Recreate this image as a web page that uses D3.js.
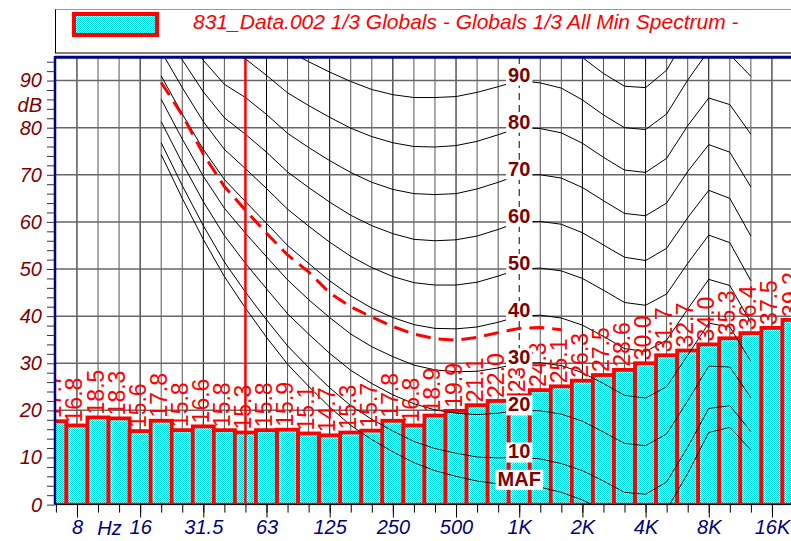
<!DOCTYPE html>
<html><head><meta charset="utf-8">
<script src="https://cdn.jsdelivr.net/npm/d3@7"></script>
<style>
body{margin:0;background:#fff;}
svg{display:block;font-family:"Liberation Sans",Arial,sans-serif;}
</style>
</head><body>
<svg id="c" width="791" height="541"></svg>
<script>
// ---------- DATA ----------
const bands = ["6.3","8","10","12.5","16","20","25","31.5","40","50","63","80","100","125","160","200","250","315","400","500","630","800","1K","1.25K","1.6K","2K","2.5K","3.15K","4K","5K","6.3K","8K","10K","12.5K","16K","20K"];
const minSpectrum = [17.7,16.8,18.5,18.3,15.6,17.8,15.8,16.6,15.8,15.3,15.8,15.9,15.1,14.7,15.3,15.7,17.8,16.8,18.9,19.9,21.1,22.0,23.2,24.3,25.1,26.3,27.5,28.6,30.0,31.7,32.7,34.0,35.3,36.4,37.5,39.2];
const octaveTicks = ["8","16","31.5","63","125","250","500","1K","2K","4K","8K","16K"];
const yTickValues = [0,2,4,6,8,10,12,14,16,18,20,22,24,26,28,30,32,34,36,38,40,42,44,46,48,50,52,54,56,58,60,62,64,66,68,70,72,74,76,78,80,82,84,86,88,90,92,94];
const yLabelValues = [0,10,20,30,40,50,60,70,80,90];

// equal-loudness contours, bands 20 Hz .. 12.5 kHz
const contourBands = ["20","25","31.5","40","50","63","80","100","125","160","200","250","315","400","500","630","800","1K","1.25K","1.6K","2K","2.5K","3.15K","4K","5K","6.3K","8K","10K","12.5K"];
const phonMAF = [74.3,65.0,56.3,48.4,41.7,35.5,29.8,25.1,20.7,16.8,13.8,11.2,8.9,7.2,6.0,5.0,4.4,4.2,3.7,2.6,1.0,-1.2,-3.6,-3.9,-1.1,6.6,15.3,16.4,11.6];
const phon10 = [76.8,67.7,59.2,51.5,45.1,39.2,33.7,29.1,24.8,21.0,18.1,15.6,13.4,11.9,10.9,10.1,9.9,10.0,9.7,8.7,7.2,5.0,2.6,2.2,4.8,12.2,20.4,21.0,15.5];
const phon20 = [81.3,72.5,64.3,57.1,51.2,45.8,40.5,36.2,32.1,28.5,25.7,23.3,21.4,20.1,19.4,19.1,19.4,20.0,19.9,19.2,17.7,15.4,13.0,12.5,15.0,22.0,29.4,29.2,22.7];
const phon30 = [86.0,77.6,69.7,62.9,57.6,52.6,47.7,43.5,39.7,36.2,33.5,31.4,29.6,28.6,28.2,28.3,29.0,30.0,30.1,29.5,28.0,25.7,23.2,22.6,25.0,31.7,38.5,37.7,30.4];
const phon40 = [91.0,82.9,75.4,69.0,64.3,59.7,55.0,51.2,47.5,44.3,41.7,39.7,38.2,37.4,37.3,37.7,38.7,40.0,40.2,39.6,38.1,35.7,33.1,32.5,34.9,41.5,47.8,46.5,38.6];
const phon50 = [96.2,88.5,81.3,75.4,71.3,67.1,62.7,59.1,55.7,52.7,50.3,48.4,47.1,46.6,46.6,47.2,48.5,50.0,50.2,49.6,48.0,45.5,42.9,42.3,44.7,51.2,57.2,55.6,47.5];
const phon60 = [101.7,94.4,87.6,82.1,78.6,74.8,70.6,67.3,64.2,61.4,59.2,57.5,56.3,56.0,56.2,57.0,58.4,60.0,60.1,59.5,57.7,55.1,52.5,51.8,54.4,60.9,66.7,65.0,57.0];
const phon70 = [107.6,100.7,94.3,89.2,86.4,82.8,78.8,75.8,73.0,70.5,68.4,66.9,66.0,65.8,66.0,67.0,68.4,70.0,70.0,69.3,67.3,64.5,61.8,61.3,64.0,70.7,76.4,74.8,67.4];
const phon80 = [113.7,107.3,101.3,96.6,94.6,91.1,87.4,84.7,82.2,79.9,78.1,76.8,76.0,75.9,76.2,77.1,78.5,80.0,79.8,78.9,76.7,73.7,71.0,70.5,73.5,80.4,86.3,84.9,78.6];
const phon90 = [120.3,114.4,108.7,104.4,103.2,99.8,96.3,94.0,91.8,89.8,88.1,87.0,86.4,86.4,86.6,87.5,88.7,90.0,89.5,88.4,85.9,82.7,80.0,79.6,82.9,90.1,96.4,95.5,90.9];
const phon100 = [127.2,121.9,116.6,112.6,112.3,108.9,105.6,103.6,101.8,100.1,98.7,97.8,97.2,97.3,97.4,98.1,99.0,100.0,99.1,97.7,94.9,91.5,88.8,88.5,92.2,99.9,106.6,106.4,104.3];
const contours = [phonMAF,phon10,phon20,phon30,phon40,phon50,phon60,phon70,phon80,phon90,phon100];
const phonLabels = ["90","80","70","60","50","40","30","20","10","MAF"];
const phonLabelLevels = [90,80,70,60,50,40,30,20,10,4.2];

// red dashed reference curve, bands 20 Hz .. 1.6 kHz
const dashedBands = ["20","25","31.5","40","50","63","80","100","125","160","200","250","315","400","500","630","800","1K","1.25K","1.6K"];
const dashedCurve = [89.6,82.7,74.4,67.5,62.5,57.6,53.0,49.4,44.9,42.0,39.8,37.8,36.2,35.2,34.9,35.5,36.5,37.4,37.6,37.1];
const cursorBand = "50";
const titleText = "831_Data.002 1/3 Globals - Globals 1/3 All Min Spectrum -";

// ---------- LAYOUT ----------
const svg = d3.select("#c");
const step = 21.06;
const x = d3.scalePoint().domain(bands).range([55.9, 55.9 + (bands.length-1)*step]);
const y = d3.scaleLinear().domain([0,95]).range([504.6,57]);
const L = 55, T = 57, R = 791, B = y(0);

const defs = svg.append("defs");
const pat = defs.append("pattern").attr("id","dither").attr("width",2).attr("height",2).attr("patternUnits","userSpaceOnUse");
pat.append("rect").attr("width",2).attr("height",2).attr("fill","#ffffff");
pat.append("rect").attr("width",1).attr("height",1).attr("fill","#00d8d8");
pat.append("rect").attr("x",1).attr("y",1).attr("width",1).attr("height",1).attr("fill","#00d8d8");
defs.append("clipPath").attr("id","plotclip").append("rect").attr("x",L).attr("y",T).attr("width",R-L+10).attr("height",B-T);

// legend
svg.append("rect").attr("x",55.5).attr("y",9.5).attr("width",800).attr("height",43.5).attr("fill","#fff").attr("stroke","#000").attr("stroke-width",1);
svg.append("line").attr("x1",55.5).attr("x2",800).attr("y1",9.5).attr("y2",9.5).attr("stroke","#999");
svg.append("rect").attr("x",74).attr("y",14).attr("width",83).attr("height",21).attr("fill","url(#dither)").attr("stroke","#ff0000").attr("stroke-width",4);
svg.append("text").attr("x",193).attr("y",28.5).attr("fill","#ff0000").attr("font-size",21).attr("font-style","italic").text(titleText);

const plot = svg.append("g").attr("clip-path","url(#plotclip)");

// grid
plot.append("g").selectAll("line").data(bands.slice(1)).join("line")
  .attr("x1",d=>x(d)).attr("x2",d=>x(d)).attr("y1",T).attr("y2",B)
  .attr("stroke",d=>octaveTicks.includes(d)?"#000":"#555").attr("stroke-width",1)
  .attr("stroke-dasharray",d=>d==="1K"?"7,5":null);
plot.append("g").selectAll("line").data(yLabelValues.slice(1)).join("line")
  .attr("x1",L).attr("x2",R).attr("y1",d=>y(d)).attr("y2",d=>y(d))
  .attr("stroke","#666").attr("stroke-width",1.5);

// bars
plot.append("g").selectAll("rect").data(bands).join("rect")
  .attr("x",(d)=>x(d)-step/2).attr("width",step)
  .attr("y",(d,i)=>y(minSpectrum[i])).attr("height",(d,i)=>B-y(minSpectrum[i]))
  .attr("fill","url(#dither)").attr("stroke","#ff0000").attr("stroke-width",3.8);

// contours
const line = d3.line().x((d,i)=>x(contourBands[i])).y(d=>y(d));
plot.append("g").selectAll("path").data(contours).join("path")
  .attr("d",line).attr("fill","none").attr("stroke","#000").attr("stroke-width",1);

// dashed red curve
const dline = d3.line().x((d,i)=>x(dashedBands[i])).y(d=>y(d));
plot.append("path").datum(dashedCurve).attr("d",dline).attr("fill","none")
  .attr("stroke","#ff0000").attr("stroke-width",3).attr("stroke-dasharray","15,8");

// cursor
plot.append("line").attr("x1",x(cursorBand)).attr("x2",x(cursorBand)).attr("y1",T).attr("y2",B)
  .attr("stroke","#ff0000").attr("stroke-width",2.5);

// bar value labels
plot.append("g").selectAll("text").data(bands).join("text")
  .attr("transform",(d,i)=>`translate(${x(d)+5.5},${y(minSpectrum[i])-3}) rotate(-90)`)
  .attr("fill","#ff0000").attr("font-size",23).text((d,i)=>minSpectrum[i].toFixed(1));

// phon labels
const pl = plot.append("g").selectAll("g").data(phonLabels).join("g")
  .attr("transform",(d,i)=>`translate(${x("1K")},${y(phonLabelLevels[i])+1})`);
pl.append("rect").attr("fill","#fff");
pl.append("text").attr("text-anchor","middle").attr("fill","#800000").attr("font-size",20).attr("font-weight","bold").text(d=>d);
pl.each(function(){
  const g = d3.select(this); const bb = g.select("text").node().getBBox();
  g.select("rect").attr("x",bb.x-2).attr("y",bb.y+2).attr("width",bb.width+4).attr("height",bb.height-2);
});

// axes
const xMinor = svg.append("g").attr("transform",`translate(0,${B})`)
  .call(d3.axisBottom(x).tickValues(bands.filter(b=>x(b)<R)).tickSize(8).tickFormat(""));
xMinor.select(".domain").remove();
const xMajor = svg.append("g").attr("transform",`translate(0,${B})`)
  .call(d3.axisBottom(x).tickValues(octaveTicks).tickSize(13).tickPadding(2));
xMajor.select(".domain").remove();
xMajor.selectAll("text").attr("font-size",20).attr("font-style","italic").attr("fill","#000080").attr("font-family","Liberation Sans, Arial, sans-serif");
svg.append("text").attr("x",(x("10")+x("12.5"))/2+1).attr("y",B+30).attr("text-anchor","middle")
  .attr("font-size",20).attr("font-style","italic").attr("fill","#000080").text("Hz");

const yAx = svg.append("g").attr("transform",`translate(${L},0)`)
  .call(d3.axisLeft(y).tickValues(yTickValues).tickSize(8).tickPadding(5).tickFormat(d=>yLabelValues.includes(d)?d:""));
yAx.select(".domain").remove();
yAx.selectAll("line").attr("stroke","#333");
yAx.selectAll("text").attr("font-size",20).attr("font-style","italic").attr("fill","#800000").attr("font-family","Liberation Sans, Arial, sans-serif");
svg.append("text").attr("x",42).attr("y",112).attr("text-anchor","end")
  .attr("font-size",20).attr("font-style","italic").attr("fill","#800000").text("dB");

// borders
svg.append("line").attr("x1",L).attr("x2",R).attr("y1",B).attr("y2",B).attr("stroke","#000").attr("stroke-width",1);
svg.append("line").attr("x1",L).attr("x2",R).attr("y1",57.3).attr("y2",57.3).attr("stroke","#000080").attr("stroke-width",3);
svg.append("line").attr("x1",L).attr("x2",L).attr("y1",56).attr("y2",B).attr("stroke","#000080").attr("stroke-width",2.5);
</script>
</body></html>
